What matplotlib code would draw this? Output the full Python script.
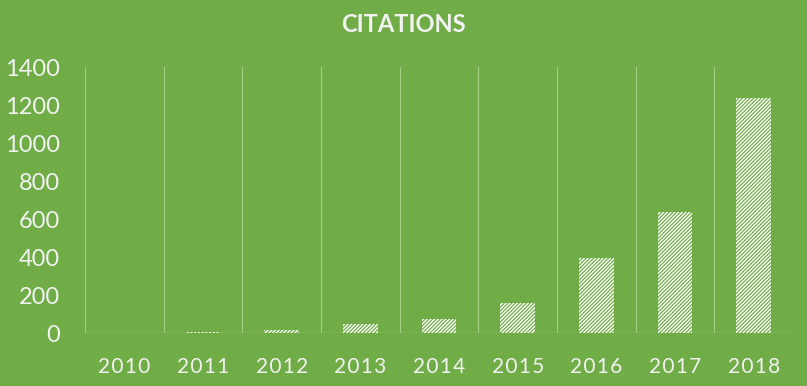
import matplotlib
matplotlib.use('Agg')
import matplotlib.pyplot as plt
import numpy as np

years = ['2010', '2011', '2012', '2013', '2014', '2015', '2016', '2017', '2018']
citations = [1, 5, 15, 47, 73, 157, 393, 636, 1236]
yticks = [0, 200, 400, 600, 800, 1000, 1200, 1400]

green = '#70ad47'
grid = '#a2cf85'
txt = '#f2f2f2'

plt.rcParams['font.family'] = ['Lato', 'DejaVu Sans']
plt.rcParams['hatch.linewidth'] = 0.9

fig = plt.figure(figsize=(8.07, 3.86), dpi=100, facecolor=green)
ax = fig.add_axes([85/807, 53/386, 708/807, 266/386])
ax.set_facecolor(green)

x = np.arange(len(years))
ax.bar(x, citations, width=0.44, color='white', edgecolor=green,
       hatch='/////////', linewidth=0, zorder=3)

ax.set_xlim(-0.5, len(years) - 0.5)
ax.set_ylim(0, 1400)
ax.set_yticks(yticks)
ax.set_yticklabels([str(v) for v in yticks], fontsize=17, color=txt)
ax.set_xticks(x)
ax.set_xticklabels(['\u200a'.join(y) for y in years], fontsize=15, color=txt)
ax.set_xticks(np.arange(-0.5, len(years)), minor=True)
ax.grid(True, which='minor', axis='x', color=grid, linewidth=0.8, zorder=0)
ax.tick_params(which='both', length=0)
ax.tick_params(axis='x', pad=17)
ax.tick_params(axis='y', pad=18)
for s in ax.spines.values():
    s.set_visible(False)
ax.axhline(0, color=grid, linewidth=1, zorder=2)

fig.text(0.5, 1 - 25/386, 'CITATIONS', ha='center', va='center',
         fontsize=17, fontweight='bold', color=txt)

fig.savefig('out.png', dpi=100, facecolor=green)
